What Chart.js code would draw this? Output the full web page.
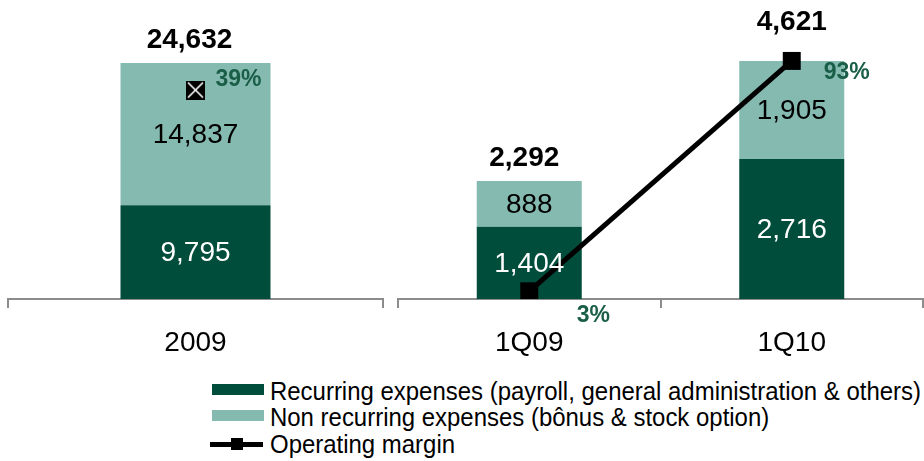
<!DOCTYPE html>
<html>
<head>
<meta charset="utf-8">
<script src="https://cdn.jsdelivr.net/npm/chart.js@4/dist/chart.umd.min.js"></script>
<style>
  html, body { margin: 0; padding: 0; background: #fff; }
  body { width: 924px; height: 461px; position: relative; overflow: hidden; font-family: "Liberation Sans", Arial, sans-serif; }
  .cw { position: absolute; top: 0; height: 370px; }
  .lg-row { position: absolute; left: 0; height: 25px; font-family: "Liberation Sans", Arial, sans-serif; font-size: 25px; line-height: 25px; color: #000; white-space: nowrap; }
  .sw { position: absolute; width: 52px; height: 11px; }
  .lt { position: absolute; left: 270px; top: 0; transform-origin: 0 50%; }
</style>
</head>
<body>
<div class="cw" style="left:0;width:392px"><canvas id="left"></canvas></div>
<div class="cw" style="left:390px;width:534px"><canvas id="right"></canvas></div>

<div class="lg-row" style="top:379px;width:924px">
  <span class="sw" style="left:212px;top:5px;background:#004d3b"></span>
  <span class="lt" id="lt0"></span>
</div>
<div class="lg-row" style="top:405px;width:924px">
  <span class="sw" style="left:212px;top:5px;background:#85bab0"></span>
  <span class="lt" id="lt1"></span>
</div>
<div class="lg-row" style="top:432px;width:924px">
  <span style="position:absolute;left:210px;top:10px;width:53px;height:5px;background:#000"></span>
  <span style="position:absolute;left:231px;top:6px;width:12px;height:12px;background:#000"></span>
  <span class="lt" id="lt2"></span>
</div>

<script>
// ---- data ----
const categories = ['2009', '1Q09', '1Q10'];
const recurring = [9795, 1404, 2716];
const nonRecurring = [14837, 888, 1905];
const operatingMargin = [39, 3, 93]; // %
const seriesNames = ['Recurring expenses (payroll, general administration & others)', 'Non recurring expenses (bônus & stock option)', 'Operating margin'];

// ---- styles ----
const DARK = '#004d3b';
const LIGHT = '#85bab0';
const PCT = '#1a5e48';
const AXIS = '#8c8c8c';
const FONT = '"Liberation Sans", Arial, sans-serif';
const fmt = v => v.toLocaleString('en-US');

// legend text (slightly condensed, like the original)
const LEGEND_SCALE = 0.958;
seriesNames.forEach((n, i) => {
  const el = document.getElementById('lt' + i);
  el.textContent = n;
  el.style.transform = 'scaleX(' + LEGEND_SCALE + ')';
});

// crossed square marker for the 2009 point
function crossedSquare() {
  const c = document.createElement('canvas');
  c.width = 19; c.height = 19;
  const g = c.getContext('2d');
  g.fillStyle = '#000'; g.fillRect(0, 0, 19, 19);
  g.strokeStyle = '#fff'; g.lineWidth = 1.6;
  g.beginPath(); g.moveTo(2, 2); g.lineTo(17, 17); g.moveTo(17, 2); g.lineTo(2, 17); g.stroke();
  return c;
}

const labelPlugin = {
  id: 'valueLabels',
  afterDatasetsDraw(chart, args, opts) {
    const ctx = chart.ctx;
    const ds = chart.data.datasets;
    const m0 = chart.getDatasetMeta(0), m1 = chart.getDatasetMeta(1), m2 = chart.getDatasetMeta(2);
    ctx.save();
    ctx.textAlign = 'center';
    ctx.textBaseline = 'middle';
    ctx.font = '28px ' + FONT;
    m0.data.forEach((el, i) => {
      ctx.fillStyle = '#fff';
      ctx.fillText(fmt(ds[0].data[i]), el.x, (el.y + el.base) / 2 + 1);
    });
    m1.data.forEach((el, i) => {
      ctx.fillStyle = '#000';
      ctx.fillText(fmt(ds[1].data[i]), el.x, (el.y + el.base) / 2 + 1);
    });
    ctx.font = 'bold 28px ' + FONT;
    m1.data.forEach((el, i) => {
      const total = ds[0].data[i] + ds[1].data[i];
      const off = opts.totalOffsets[i];
      ctx.fillStyle = '#000';
      ctx.fillText(fmt(total), el.x + off[0], el.y + off[1]);
    });
    ctx.font = 'bold 23px ' + FONT;
    m2.data.forEach((el, i) => {
      const off = opts.pctOffsets[i];
      ctx.fillStyle = PCT;
      ctx.fillText(ds[2].data[i] + '%', el.x + off[0], el.y + off[1]);
    });
    ctx.restore();
  }
};

function makeChart(id, cats, rec, non, marg, yMax, y1Max, pad, pointStyle, pointRadius, showLine, totalOffsets, pctOffsets) {
  return new Chart(document.getElementById(id), {
    type: 'bar',
    data: {
      labels: cats,
      datasets: [
        { label: seriesNames[0], data: rec, backgroundColor: DARK, stack: 's', order: 1, yAxisID: 'y' },
        { label: seriesNames[1], data: non, backgroundColor: LIGHT, stack: 's', order: 1, yAxisID: 'y' },
        { type: 'line', label: seriesNames[2], data: marg, yAxisID: 'y1', order: 0,
          borderColor: '#000', backgroundColor: '#000', borderWidth: 5, showLine: showLine,
          pointStyle: pointStyle, pointRadius: pointRadius, pointHoverRadius: pointRadius, pointBorderWidth: 0 }
      ]
    },
    options: {
      responsive: true,
      maintainAspectRatio: false,
      animation: false,
      events: [],
      layout: { padding: pad, autoPadding: false },
      datasets: { bar: { barPercentage: 0.4, categoryPercentage: 1.0 } },
      plugins: {
        legend: { display: false },
        tooltip: { enabled: false },
        valueLabels: { totalOffsets, pctOffsets }
      },
      scales: {
        x: {
          stacked: true,
          offset: true,
          grid: { display: true, offset: true, drawOnChartArea: false, drawTicks: true, tickLength: 9, color: AXIS, lineWidth: 2 },
          border: { display: true, color: AXIS, width: 2 },
          ticks: { color: '#000', font: { family: FONT, size: 28 }, padding: 18 },
          afterFit: s => { s.height = 71; }
        },
        y: { display: false, stacked: true, min: 0, max: yMax },
        y1: { display: false, min: 0, max: y1Max, position: 'right' }
      }
    },
    plugins: [labelPlugin]
  });
}

makeChart('left', categories.slice(0, 1), recurring.slice(0, 1), nonRecurring.slice(0, 1), operatingMargin.slice(0, 1),
  31207, 55.8, { left: 8, right: 9, top: 0, bottom: 0 }, crossedSquare(), 9, false,
  [[-6, -23]], [[43, -10]]);

makeChart('right', categories.slice(1), recurring.slice(1), nonRecurring.slice(1), operatingMargin.slice(1),
  5805, 116.8, { left: 8, right: 1, top: 0, bottom: 0 }, 'rect', 12.7, true,
  [[-5, -23], [0, -39]], [[64, 24], [55, 12]]);
</script>
</body>
</html>
